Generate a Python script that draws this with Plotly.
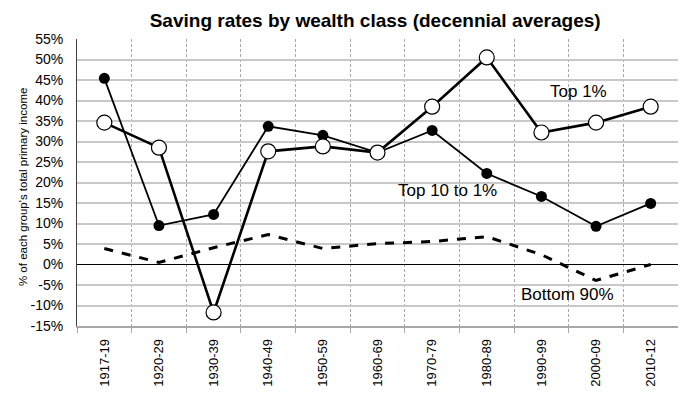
import plotly.graph_objects as go

categories = ["1917-19", "1920-29", "1930-39", "1940-49", "1950-59", "1960-69",
              "1970-79", "1980-89", "1990-99", "2000-09", "2010-12"]
top1 = [34.6, 28.5, -11.7, 27.6, 28.8, 27.3, 38.5, 50.5, 32.2, 34.6, 38.5]
top10_1 = [45.4, 9.5, 12.2, 33.7, 31.5, 27.3, 32.7, 22.2, 16.6, 9.3, 14.9]
bottom90 = [3.9, 0.5, 4.1, 7.3, 3.9, 5.1, 5.6, 6.8, 2.4, -3.9, 0.0]
ytick_vals = list(range(-15, 60, 5))

xs = list(range(len(categories)))
font = "Liberation Sans, Arial, sans-serif"

fig = go.Figure()
fig.add_trace(go.Scatter(x=xs, y=bottom90, mode="lines",
                         line=dict(color="black", width=3, dash="dash"), name="Bottom 90%"))
fig.add_trace(go.Scatter(x=xs, y=top10_1, mode="lines+markers",
                         line=dict(color="black", width=1.8),
                         marker=dict(symbol="circle", size=11, color="black"), name="Top 10 to 1%"))
fig.add_trace(go.Scatter(x=xs, y=top1, mode="lines+markers",
                         line=dict(color="black", width=2.6),
                         marker=dict(symbol="circle", size=15, color="white",
                                     line=dict(color="black", width=1.2)), name="Top 1%"))

fig.add_annotation(x=8.68, y=42.3, text="Top 1%", showarrow=False,
                   font=dict(size=17, color="black", family=font))
fig.add_annotation(x=6.28, y=18.1, text="Top 10 to 1%", showarrow=False,
                   font=dict(size=17, color="black", family=font))
fig.add_annotation(x=8.47, y=-7.25, text="Bottom 90%", showarrow=False,
                   font=dict(size=17, color="black", family=font))
fig.add_annotation(xref="paper", yref="paper", x=-0.1032, y=0.484,
                   text="% of each group's total primary income", textangle=-90,
                   showarrow=False, font=dict(size=11.5, color="black", family=font))

fig.update_layout(
    width=670, height=388,
    margin=dict(l=69, r=0, t=31, b=70, autoexpand=False),
    paper_bgcolor="white", plot_bgcolor="white",
    showlegend=False,
    title=dict(text="<b>Saving rates by wealth class (decennial averages)</b>",
               x=0.548, xanchor="center", y=0.969, yanchor="middle",
               font=dict(size=19, color="black", family=font)),
    font=dict(family=font, color="black"),
)
fig.update_xaxes(
    range=[-0.5, len(categories) - 0.5], automargin=False,
    tickmode="array", tickvals=xs, ticktext=categories, tickangle=-90,
    tickfont=dict(size=13, color="black", family=font),
    showgrid=False, zeroline=False,
    showline=True, linecolor="#a8a8a8", linewidth=1.5, mirror=False,
    ticks="outside", ticklen=6, tickcolor="rgba(0,0,0,0)",
    minor=dict(tick0=-0.5, dtick=1, showgrid=True, gridcolor="#a8a8a8",
               griddash="3px,2px", gridwidth=1, ticks="outside", ticklen=5,
               tickcolor="#a8a8a8"),
)
fig.update_yaxes(
    range=[-15, 55], tickmode="array", tickvals=ytick_vals, automargin=False,
    ticktext=[f"{v}%" for v in ytick_vals],
    tickfont=dict(size=14, color="black", family=font),
    showgrid=True, gridcolor="#c8c8c8", gridwidth=1.5,
    zeroline=True, zerolinecolor="black", zerolinewidth=1,
    showline=True, linecolor="#404040", linewidth=1,
    ticks="outside", ticklen=10, tickcolor="rgba(0,0,0,0)",
)

fig.write_html("out.html")
